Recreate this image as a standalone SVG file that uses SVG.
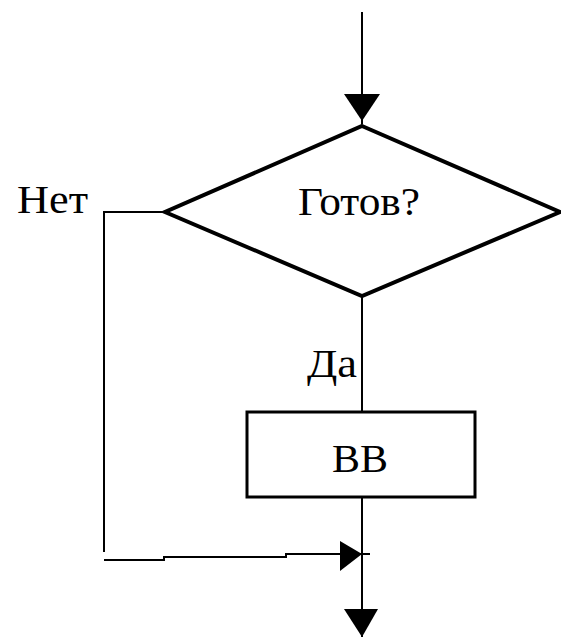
<svg xmlns="http://www.w3.org/2000/svg" width="561" height="637" viewBox="0 0 561 637">
<style>
.ln{fill:none;stroke:#000;stroke-width:2}
.ah{fill:#000;stroke:none}
.t{font-family:"Liberation Serif","DejaVu Serif",serif;font-size:40px;fill:#000}
</style>
<rect width="561" height="637" fill="#fff"/>
<g id="connectors">
<line class="ln" x1="362" y1="12" x2="362" y2="124"/>
<polygon class="ah" points="344,94 380,94 362,121"/>
<polyline class="ln" points="165,212 104,212 104,552"/>
<polyline class="ln" points="104,560 164,560 164,557 286,557 286,554 370,554"/>
<polygon class="ah" points="340,541 340,571 362,554"/>
<line class="ln" x1="362" y1="296" x2="362" y2="411"/>
<line class="ln" x1="362" y1="497" x2="362" y2="637"/>
<polygon class="ah" points="344,609 378,609 362,637"/>
<text class="t" x="307" y="377" textLength="50" lengthAdjust="spacingAndGlyphs">Да</text>
<text class="t" x="17" y="213" textLength="71" lengthAdjust="spacingAndGlyphs">Нет</text>
</g>
<g id="decision">
<polygon points="362,126 560,212 362,296 165,212" fill="#fff" stroke="#000" stroke-width="4" stroke-linejoin="miter"/>
<text class="t" x="298" y="215" textLength="122" lengthAdjust="spacingAndGlyphs">Готов?</text>
</g>
<g id="process">
<rect x="247" y="412" width="228" height="85" fill="#fff" stroke="#000" stroke-width="3"/>
<text class="t" x="332" y="472" textLength="56" lengthAdjust="spacingAndGlyphs">ВВ</text>
</g>
</svg>
